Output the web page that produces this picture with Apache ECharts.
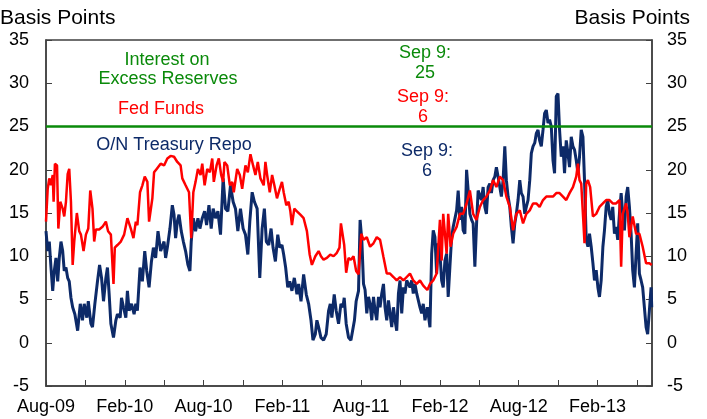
<!DOCTYPE html>
<html>
<head>
<meta charset="utf-8">
<script src="https://cdn.jsdelivr.net/npm/echarts@6/dist/echarts.min.js"></script>
<style>
  html, body { margin: 0; padding: 0; background: #fff; }
  #chart { width: 707px; height: 419px; }
</style>
</head>
<body>
<div id="chart"></div>
<script>
  // x values are months since Aug-09
  const tickLabels = ['Aug-09', 'Feb-10', 'Aug-10', 'Feb-11', 'Aug-11', 'Feb-12', 'Aug-12', 'Feb-13'];
  const lastMonth = 46.15;

  const ioer = [[0, 25], [46.15, 25]];

  const fedFunds = [[0.00,14.0],[0.13,17.8],[0.25,19.0],[0.38,18.2],[0.51,19.4],[0.58,16.3],[0.68,20.7],[0.84,20.5],[0.94,13.2],[1.09,16.3],[1.27,15.5],[1.39,14.6],[1.52,16.3],[1.65,19.5],[1.77,20.1],[1.90,16.3],[2.03,9.0],[2.15,11.7],[2.35,15.0],[2.53,12.9],[2.66,12.5],[2.86,10.6],[3.04,12.5],[3.22,13.2],[3.37,17.6],[3.54,15.5],[3.67,11.7],[3.80,13.1],[4.05,13.1],[4.30,13.4],[4.56,14.0],[4.73,12.9],[4.94,12.5],[5.14,6.8],[5.24,11.0],[5.44,11.3],[5.70,11.7],[5.95,12.5],[6.20,14.4],[6.46,13.2],[6.66,12.1],[6.84,14.0],[6.96,13.6],[7.16,17.4],[7.34,18.2],[7.52,19.2],[7.72,18.6],[7.85,14.0],[7.97,14.0],[8.10,16.7],[8.23,19.7],[8.43,20.1],[8.73,20.7],[8.99,20.5],[9.24,21.3],[9.49,21.6],[9.75,21.5],[10.00,20.9],[10.25,20.5],[10.38,19.0],[10.63,18.2],[10.89,17.4],[11.06,12.1],[11.22,17.4],[11.39,18.6],[11.57,20.1],[11.77,19.4],[11.90,20.7],[12.08,18.2],[12.28,20.1],[12.48,19.7],[12.66,21.3],[12.78,18.6],[12.99,20.5],[13.16,21.3],[13.34,19.4],[13.49,18.6],[13.59,20.9],[13.80,20.5],[14.00,18.2],[14.18,18.6],[14.30,17.4],[14.56,20.1],[14.76,19.4],[14.94,17.8],[15.19,20.5],[15.37,19.7],[15.57,21.8],[15.77,20.5],[15.95,19.4],[16.13,20.9],[16.33,19.0],[16.58,18.2],[16.71,20.9],[16.84,19.4],[17.04,17.4],[17.22,19.4],[17.39,18.2],[17.59,16.7],[17.80,17.8],[17.97,18.6],[18.10,17.4],[18.30,15.9],[18.48,16.3],[18.61,15.2],[18.73,13.6],[18.91,15.5],[19.11,15.2],[19.37,14.8],[19.62,14.4],[19.87,12.9],[20.08,10.2],[20.25,9.0],[20.51,10.0],[20.76,10.6],[20.94,10.0],[21.14,9.6],[21.39,9.8],[21.65,10.2],[21.90,10.0],[22.15,10.4],[22.35,11.0],[22.46,13.8],[22.58,13.8],[22.71,11.3],[22.86,8.1],[23.04,9.8],[23.22,9.6],[23.42,10.0],[23.62,8.3],[23.80,7.9],[24.01,12.6],[24.18,11.9],[24.43,12.2],[24.68,11.1],[24.94,11.5],[25.19,12.2],[25.44,11.9],[25.70,9.9],[25.95,8.0],[26.20,8.0],[26.46,7.6],[26.71,7.2],[26.96,7.6],[27.22,7.2],[27.47,7.6],[27.72,8.0],[27.97,7.2],[28.23,6.8],[28.48,7.2],[28.73,6.6],[29.04,6.1],[29.24,6.8],[29.49,7.2],[29.75,8.0],[30.00,14.2],[30.13,9.5],[30.25,14.9],[30.51,10.3],[30.63,14.9],[30.81,11.1],[31.01,12.6],[31.27,13.4],[31.52,14.9],[31.77,14.9],[32.03,16.1],[32.28,17.6],[32.53,14.9],[32.78,14.2],[33.04,15.7],[33.29,16.5],[33.54,16.9],[33.80,17.6],[34.05,18.8],[34.30,18.0],[34.56,19.2],[34.81,18.8],[35.06,16.9],[35.32,15.7],[35.57,13.0],[35.82,14.9],[36.08,15.3],[36.33,13.8],[36.58,14.9],[36.84,15.3],[37.09,16.1],[37.34,16.1],[37.59,15.7],[37.85,16.5],[38.10,16.9],[38.35,16.9],[38.61,16.9],[38.86,17.3],[39.11,17.3],[39.37,16.9],[39.62,16.5],[39.87,17.3],[40.13,18.0],[40.38,19.2],[40.51,20.7],[40.63,18.8],[40.76,18.4],[40.89,14.9],[41.01,11.5],[41.14,18.4],[41.27,18.8],[41.44,18.0],[41.65,14.6],[41.90,14.9],[42.15,15.7],[42.41,16.1],[42.66,16.5],[42.91,16.5],[43.16,16.1],[43.42,16.1],[43.67,16.5],[43.80,8.8],[43.92,14.9],[44.18,16.1],[44.30,14.9],[44.43,12.2],[44.68,14.6],[44.94,12.6],[45.19,12.6],[45.44,11.1],[45.70,9.2],[45.95,9.2],[46.13,9.0]];

  const repo = [[0.00,12.9],[0.13,10.6],[0.25,11.7],[0.38,8.7],[0.51,6.0],[0.63,8.3],[0.76,9.8],[0.89,7.1],[1.01,9.8],[1.14,11.7],[1.27,10.6],[1.39,8.3],[1.52,8.7],[1.65,7.5],[1.77,7.1],[1.90,5.2],[2.03,4.1],[2.20,3.3],[2.41,1.4],[2.61,4.5],[2.78,2.6],[2.91,4.5],[3.11,2.9],[3.22,4.8],[3.42,2.2],[3.54,1.8],[3.72,4.5],[3.92,7.1],[4.08,9.0],[4.23,7.5],[4.38,4.8],[4.56,7.5],[4.68,8.7],[4.81,5.6],[4.94,2.2],[5.14,0.6],[5.32,2.6],[5.44,3.3],[5.65,2.9],[5.75,5.2],[5.90,4.1],[6.08,2.9],[6.20,6.0],[6.33,3.7],[6.51,4.5],[6.71,3.3],[6.84,4.5],[6.96,3.7],[7.16,8.7],[7.34,7.1],[7.52,10.6],[7.67,8.3],[7.85,6.4],[8.03,9.4],[8.18,11.0],[8.35,9.8],[8.53,12.9],[8.73,10.6],[8.99,11.7],[9.11,9.8],[9.24,11.0],[9.44,13.2],[9.62,15.9],[9.75,14.8],[9.87,12.1],[10.00,14.0],[10.13,14.8],[10.30,12.9],[10.46,11.7],[10.63,10.6],[10.81,9.0],[10.96,8.3],[11.06,11.7],[11.22,14.4],[11.39,12.9],[11.57,14.4],[11.72,13.2],[11.90,14.4],[12.08,15.2],[12.23,13.6],[12.41,15.9],[12.58,13.2],[12.73,15.5],[12.91,14.4],[13.09,15.2],[13.29,12.5],[13.49,19.0],[13.67,15.5],[13.85,15.2],[14.05,18.2],[14.25,16.3],[14.43,15.5],[14.61,12.9],[14.81,15.5],[15.01,13.2],[15.19,12.5],[15.37,10.2],[15.52,14.0],[15.70,17.4],[15.87,16.3],[16.08,15.5],[16.28,7.5],[16.46,13.2],[16.63,15.5],[16.78,11.7],[16.96,11.3],[17.14,13.2],[17.29,11.0],[17.47,9.4],[17.65,12.5],[17.80,11.0],[17.97,11.3],[18.10,10.2],[18.25,8.7],[18.41,6.4],[18.56,7.1],[18.73,6.0],[18.91,7.5],[19.11,5.6],[19.24,6.8],[19.42,4.8],[19.62,7.9],[19.82,5.6],[20.00,4.5],[20.18,2.6],[20.33,0.3],[20.51,1.0],[20.63,2.6],[20.76,1.8],[20.94,0.6],[21.14,0.3],[21.34,1.0],[21.52,3.7],[21.65,4.5],[21.77,2.9],[21.95,5.6],[22.10,3.7],[22.28,2.2],[22.46,4.5],[22.61,4.1],[22.71,5.2],[22.86,2.2],[23.04,0.6],[23.22,0.3],[23.37,0.3],[23.49,2.6],[23.62,4.8],[23.80,6.0],[23.92,14.2],[24.05,11.9],[24.18,6.8],[24.30,6.1],[24.43,3.4],[24.56,5.3],[24.68,4.5],[24.81,2.6],[24.94,5.3],[25.06,3.7],[25.19,2.6],[25.32,5.3],[25.44,4.1],[25.57,5.7],[25.70,6.8],[25.82,4.1],[25.95,2.6],[26.08,4.9],[26.20,3.4],[26.33,1.8],[26.46,4.1],[26.58,2.6],[26.71,1.4],[26.84,5.7],[26.96,7.2],[27.09,3.4],[27.22,6.4],[27.34,5.7],[27.47,7.2],[27.59,6.8],[27.72,6.4],[27.85,7.2],[27.97,5.7],[28.10,6.8],[28.23,5.7],[28.48,4.1],[28.61,3.4],[28.73,4.5],[28.86,2.6],[29.04,4.1],[29.24,1.8],[29.37,10.3],[29.49,13.0],[29.62,12.2],[29.75,8.0],[29.87,11.5],[30.00,10.3],[30.13,7.2],[30.25,6.4],[30.38,9.5],[30.51,10.3],[30.63,5.3],[30.76,8.8],[30.89,12.2],[31.01,13.4],[31.27,15.3],[31.39,17.6],[31.52,14.2],[31.65,15.7],[31.77,13.0],[31.90,12.6],[32.03,20.0],[32.15,17.6],[32.28,14.9],[32.41,14.2],[32.53,13.8],[32.66,8.8],[32.78,13.4],[32.91,17.6],[33.04,17.6],[33.16,16.5],[33.29,18.0],[33.42,15.7],[33.54,14.9],[33.67,18.0],[33.80,18.4],[33.92,17.3],[34.05,18.8],[34.18,19.2],[34.30,20.3],[34.43,19.2],[34.56,18.0],[34.68,16.9],[34.81,18.8],[34.94,22.7],[35.06,18.8],[35.19,16.9],[35.32,15.7],[35.44,13.4],[35.57,11.5],[35.70,13.8],[35.82,14.9],[35.95,16.5],[36.08,18.8],[36.20,17.3],[36.33,16.9],[36.46,14.9],[36.58,15.7],[36.71,16.5],[36.84,18.8],[36.96,21.9],[37.09,22.7],[37.22,23.1],[37.34,24.2],[37.47,24.6],[37.59,23.4],[37.72,22.7],[37.85,24.6],[37.97,26.5],[38.10,26.9],[38.23,25.4],[38.35,25.8],[38.48,25.0],[38.61,21.1],[38.73,19.6],[38.86,28.5],[38.99,28.8],[39.11,24.6],[39.24,21.5],[39.37,22.7],[39.49,19.6],[39.62,23.4],[39.75,21.9],[39.87,20.3],[40.00,23.8],[40.13,22.7],[40.25,22.3],[40.38,21.1],[40.51,19.6],[40.63,21.5],[40.76,24.6],[40.89,23.8],[41.01,18.8],[41.14,11.9],[41.27,11.1],[41.39,12.6],[41.52,11.1],[41.65,9.2],[41.77,7.2],[41.90,8.4],[42.03,6.4],[42.15,5.3],[42.28,7.2],[42.41,11.1],[42.53,13.0],[42.66,15.7],[42.78,16.5],[42.91,14.9],[43.04,14.2],[43.16,15.7],[43.29,12.6],[43.42,13.4],[43.54,11.9],[43.67,14.9],[43.80,17.3],[43.92,14.9],[44.05,13.0],[44.18,16.9],[44.30,18.0],[44.43,15.7],[44.56,12.6],[44.68,8.4],[44.81,6.4],[44.94,10.3],[45.06,13.8],[45.19,8.0],[45.32,7.2],[45.44,6.4],[45.57,4.1],[45.70,1.8],[45.82,1.0],[45.95,3.7],[46.08,6.4],[46.13,4.1]];

  const sans = "'Liberation Sans', Arial, sans-serif";
  const axisColor = '#404040';
  const green = '#0a8a0a';
  const red = '#ff0000';
  const navy = '#0d2a68';

  const yAxisBase = {
    type: 'value',
    min: -5,
    max: 35,
    interval: 5,
    splitLine: { show: false },
    axisLine: { show: true, onZero: false, lineStyle: { color: axisColor, width: 1.5 } },
    axisTick: { show: true, inside: true, length: 6, lineStyle: { color: axisColor } }
  };

  const txt = (text, x, y, color) => ({
    type: 'text', x: x, y: y,
    style: { text: text, fill: color, font: '18px ' + sans, align: 'center', verticalAlign: 'middle' }
  });

  const chart = echarts.init(document.getElementById('chart'));
  chart.setOption({
    animation: false,
    grid: { left: 46, right: 55, top: 40, bottom: 33, show: true, borderColor: axisColor, borderWidth: 1.5 },
    xAxis: {
      type: 'value',
      min: 0,
      max: lastMonth,
      interval: 3,
      splitLine: { show: false },
      axisLine: { onZero: false, lineStyle: { color: axisColor, width: 1.5 } },
      axisTick: { inside: true, length: 6, lineStyle: { color: axisColor } },
      axisLabel: {
        color: '#000', fontFamily: sans, fontSize: 18, margin: 12,
        formatter: v => (v % 6 === 0 && tickLabels[v / 6]) ? tickLabels[v / 6] : ''
      }
    },
    yAxis: [
      Object.assign({}, yAxisBase, { position: 'left',
        axisLabel: { color: '#000', fontFamily: sans, fontSize: 18, margin: 17 } }),
      Object.assign({}, yAxisBase, { position: 'right',
        axisLabel: { color: '#000', fontFamily: sans, fontSize: 18, margin: 15 } })
    ],
    series: [
      { name: 'O/N Treasury Repo', type: 'line', data: repo, showSymbol: false,
        lineStyle: { color: navy, width: 3 }, z: 2 },
      { name: 'Fed Funds', type: 'line', data: fedFunds, showSymbol: false,
        lineStyle: { color: red, width: 2.5 }, z: 3 },
      { name: 'Interest on Excess Reserves', type: 'line', data: ioer, showSymbol: false,
        lineStyle: { color: green, width: 2.5 }, z: 4 }
    ],
    graphic: [
      { type: 'text', left: 0, top: 8, style: { text: 'Basis Points', fill: '#000', font: '21px ' + sans } },
      { type: 'text', right: 17, top: 8, style: { text: 'Basis Points', fill: '#000', font: '21px ' + sans } },
      txt('Interest on', 167, 60, green),
      txt('Excess Reserves', 168, 79, green),
      txt('Fed Funds', 161, 109, red),
      txt('O/N Treasury Repo', 174, 145, navy),
      txt('Sep 9:', 425, 53, green),
      txt('25', 425, 73, green),
      txt('Sep 9:', 423, 97, red),
      txt('6', 423, 117, red),
      txt('Sep 9:', 427, 151, navy),
      txt('6', 427, 171, navy)
    ]
  });
</script>
</body>
</html>
